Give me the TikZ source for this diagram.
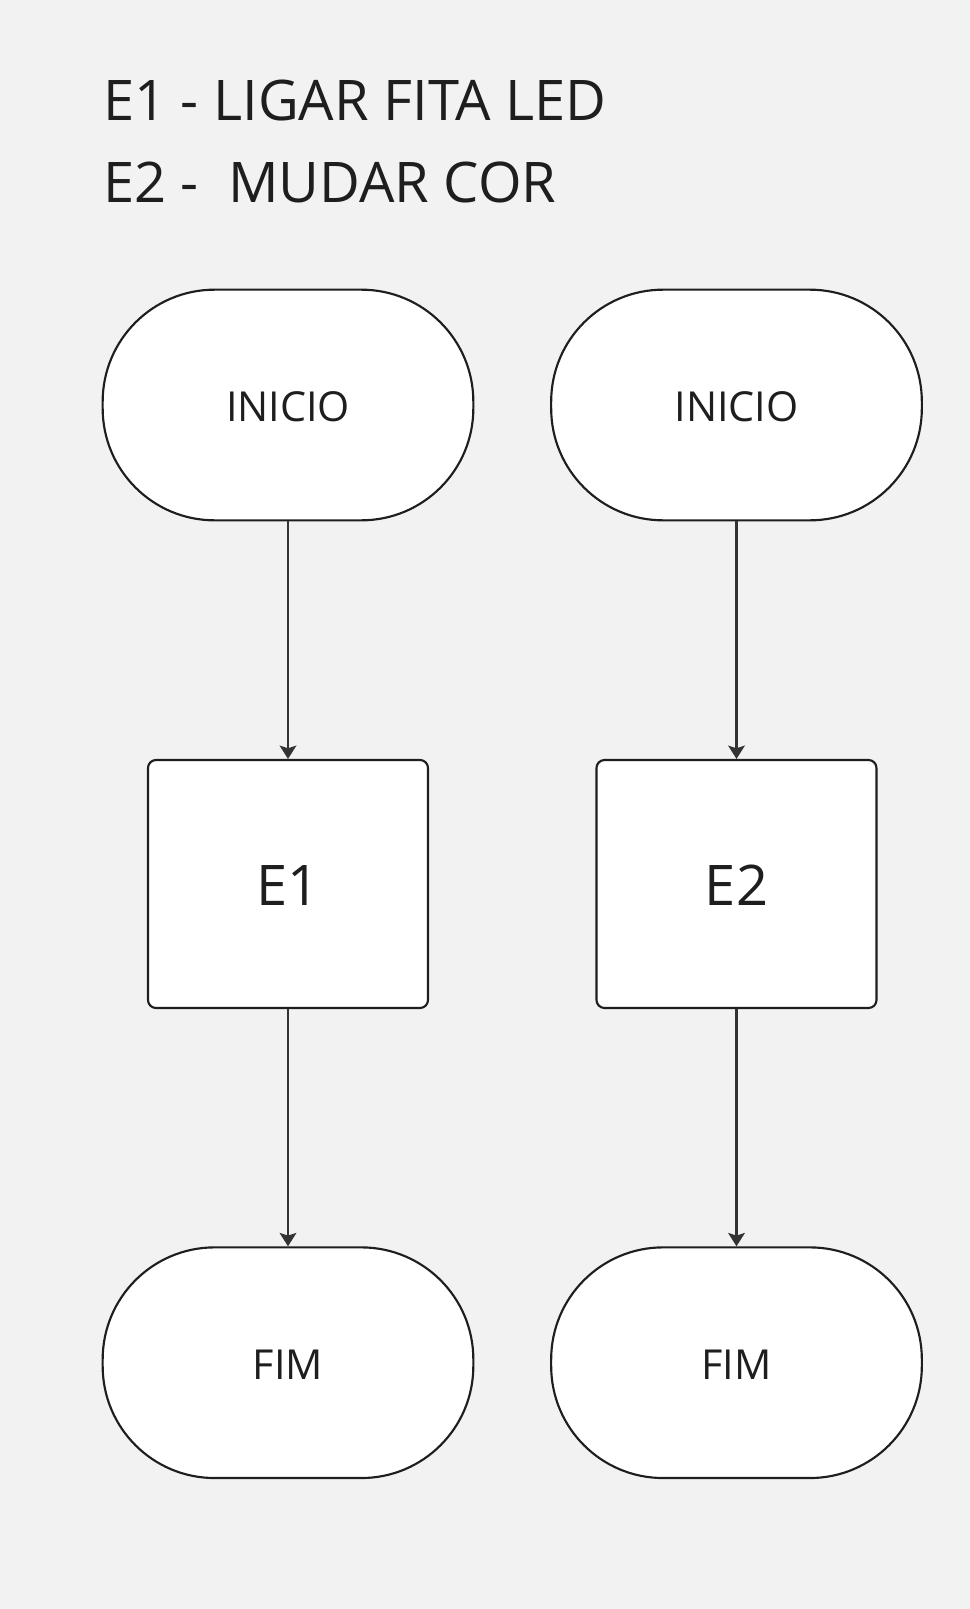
\documentclass[tikz,border=0pt]{standalone}
\usepackage{fontspec}
\setmainfont{Open Sans}
\usetikzlibrary{arrows.meta}

\definecolor{fundo}{HTML}{F2F2F2}
\definecolor{texto}{HTML}{1E1E1E}
\definecolor{linha}{HTML}{333333}

\begin{document}
\begin{tikzpicture}[x=0.75pt, y=-0.75pt,
    terminal/.style = {draw = texto, fill = white, line width = 1.6pt,
        minimum width = 278pt, minimum height = 173pt,
        rounded corners = 84pt, text = texto,
        text height = 25pt, text depth = 0pt,
        font = \fontsize{31}{36}\selectfont},
    etapa/.style = {draw = texto, fill = white, line width = 1.6pt,
        minimum width = 210pt, minimum height = 186pt,
        rounded corners = 6pt, text = texto,
        text height = 32pt, text depth = 0pt,
        font = \fontsize{42}{48}\selectfont},
    titulo/.style = {anchor = base west, inner sep = 0pt, text = texto,
        font = \fontsize{42}{48}\selectfont},
    seta/.style = {-{Stealth[length = 10pt, width = 12.5pt, inset = 2pt]},
        draw = linha, line width = 1.6pt}]

    \fill[fundo] (0,0) rectangle (970,1609);
    \useasboundingbox (0,0) rectangle (970,1609);

    \node[titulo] (t1) at (103,121) {E1 - LIGAR FITA LED};
    \node[titulo] (t2) at (103,202) {E2 -\ \ MUDAR COR};


    \node[terminal] (ini1) at (288,405) {INICIO};
    \node[terminal] (ini2) at (736.5,405) {INICIO};

    \node[etapa] (e1) at (288,884) {E1};
    \node[etapa] (e2) at (736.5,884) {E2};

    \node[terminal] (fim1) at (288,1362.7) {FIM};
    \node[terminal] (fim2) at (736.5,1362.7) {FIM};


      \draw[seta] (ini1) to (e1);
      \draw[seta] (e1) to (fim1);

      \draw[seta] (ini2) to (e2);
      \draw[seta] (e2) to (fim2);
\end{tikzpicture}
\end{document}
